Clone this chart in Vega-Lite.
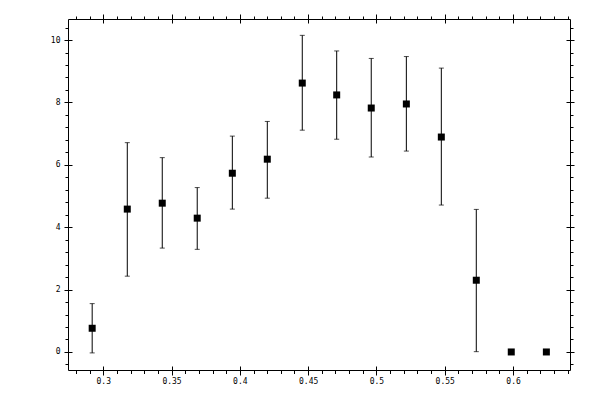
{
  "$schema": "https://vega.github.io/schema/vega-lite/v6.json",
  "width": 502,
  "height": 351,
  "autosize": "none",
  "padding": {"left": 68, "top": 19, "right": 30, "bottom": 30},
  "background": "white",
  "config": {
    "view": {"stroke": "black", "strokeWidth": 1},
    "axis": {
      "domain": false,
      "grid": false,
      "title": null,
      "tickColor": "black",
      "tickWidth": 1,
      "labelColor": "black",
      "labelFont": "DejaVu Sans Mono",
      "labelFontSize": 8,
      "labelFlush": false,
      "labelOverlap": false
    }
  },
  "data": {
    "values": [
      {"x": 0.2919, "y": 0.76, "lo": -0.03, "hi": 1.55},
      {"x": 0.3176, "y": 4.58, "lo": 2.43, "hi": 6.71},
      {"x": 0.3432, "y": 4.77, "lo": 3.33, "hi": 6.23},
      {"x": 0.3688, "y": 4.29, "lo": 3.29, "hi": 5.27},
      {"x": 0.3945, "y": 5.73, "lo": 4.58, "hi": 6.92},
      {"x": 0.4201, "y": 6.18, "lo": 4.93, "hi": 7.39},
      {"x": 0.4457, "y": 8.62, "lo": 7.11, "hi": 10.15},
      {"x": 0.4709, "y": 8.24, "lo": 6.82, "hi": 9.65},
      {"x": 0.4962, "y": 7.82, "lo": 6.25, "hi": 9.41},
      {"x": 0.5219, "y": 7.95, "lo": 6.44, "hi": 9.47},
      {"x": 0.5475, "y": 6.89, "lo": 4.71, "hi": 9.1},
      {"x": 0.5731, "y": 2.3, "lo": 0.01, "hi": 4.57},
      {"x": 0.5987, "y": 0, "lo": 0, "hi": 0},
      {"x": 0.6244, "y": 0, "lo": 0, "hi": 0}
    ]
  },
  "resolve": {"axis": {"x": "independent", "y": "independent"}},
  "layer": [
    {
      "mark": {"type": "rule", "color": "black", "strokeWidth": 1},
      "encoding": {
        "x": {"field": "x", "type": "quantitative",
          "scale": {"domain": [0.2742, 0.6417], "nice": false, "zero": false},
          "axis": {"orient": "bottom", "values": [0.3, 0.35, 0.4, 0.45, 0.5, 0.55, 0.6], "format": "~g", "tickSize": 5, "labelPadding": 2}},
        "y": {"field": "lo", "type": "quantitative",
          "scale": {"domain": [-0.578, 10.674], "nice": false, "zero": false},
          "axis": {"orient": "left", "values": [0, 2, 4, 6, 8, 10], "format": "d", "tickSize": 4, "labelPadding": 4}},
        "y2": {"field": "hi"}
      }
    },
    {
      "mark": {"type": "tick", "orient": "horizontal", "color": "black", "size": 5, "thickness": 1},
      "encoding": {
        "x": {"field": "x", "type": "quantitative",
          "axis": {"orient": "top", "values": [0.3, 0.35, 0.4, 0.45, 0.5, 0.55, 0.6], "labels": false, "tickSize": 5}},
        "y": {"field": "hi", "type": "quantitative",
          "axis": {"orient": "right", "values": [0, 2, 4, 6, 8, 10], "labels": false, "tickSize": 4}}
      }
    },
    {
      "mark": {"type": "tick", "orient": "horizontal", "color": "black", "size": 5, "thickness": 1},
      "encoding": {
        "x": {"field": "x", "type": "quantitative",
          "axis": {"orient": "bottom", "values": [0.28, 0.29, 0.3, 0.31, 0.32, 0.33, 0.34, 0.35, 0.36, 0.37, 0.38, 0.39, 0.4, 0.41, 0.42, 0.43, 0.44, 0.45, 0.46, 0.47, 0.48, 0.49, 0.5, 0.51, 0.52, 0.53, 0.54, 0.55, 0.56, 0.57, 0.58, 0.59, 0.6, 0.61, 0.62, 0.63, 0.64], "labels": false, "tickSize": 3.5}},
        "y": {"field": "lo", "type": "quantitative",
          "axis": {"orient": "left", "values": [-0.4, 0, 0.4, 0.8, 1.2, 1.6, 2, 2.4, 2.8, 3.2, 3.6, 4, 4.4, 4.8, 5.2, 5.6, 6, 6.4, 6.8, 7.2, 7.6, 8, 8.4, 8.8, 9.2, 9.6, 10, 10.4], "labels": false, "tickSize": 3}}
      }
    },
    {
      "mark": {"type": "square", "opacity": 0},
      "encoding": {
        "x": {"field": "x", "type": "quantitative",
          "axis": {"orient": "bottom", "values": [0.3, 0.35, 0.4, 0.45, 0.5, 0.55, 0.6], "labels": false, "tickSize": -4}},
        "y": {"field": "y", "type": "quantitative",
          "axis": {"orient": "left", "values": [0, 2, 4, 6, 8, 10], "labels": false, "tickSize": -4}}
      }
    },
    {
      "mark": {"type": "square", "opacity": 0},
      "encoding": {
        "x": {"field": "x", "type": "quantitative",
          "axis": {"orient": "top", "values": [0.3, 0.35, 0.4, 0.45, 0.5, 0.55, 0.6], "labels": false, "tickSize": -4}},
        "y": {"field": "y", "type": "quantitative",
          "axis": {"orient": "right", "values": [0, 2, 4, 6, 8, 10], "labels": false, "tickSize": -4}}
      }
    },
    {
      "mark": {"type": "square", "color": "black", "opacity": 1, "size": 49},
      "encoding": {
        "x": {"field": "x", "type": "quantitative",
          "axis": {"orient": "top", "values": [0.28, 0.29, 0.3, 0.31, 0.32, 0.33, 0.34, 0.35, 0.36, 0.37, 0.38, 0.39, 0.4, 0.41, 0.42, 0.43, 0.44, 0.45, 0.46, 0.47, 0.48, 0.49, 0.5, 0.51, 0.52, 0.53, 0.54, 0.55, 0.56, 0.57, 0.58, 0.59, 0.6, 0.61, 0.62, 0.63, 0.64], "labels": false, "tickSize": 3}},
        "y": {"field": "y", "type": "quantitative",
          "axis": {"orient": "right", "values": [-0.4, 0, 0.4, 0.8, 1.2, 1.6, 2, 2.4, 2.8, 3.2, 3.6, 4, 4.4, 4.8, 5.2, 5.6, 6, 6.4, 6.8, 7.2, 7.6, 8, 8.4, 8.8, 9.2, 9.6, 10, 10.4], "labels": false, "tickSize": 3}}
      }
    }
  ]
}
